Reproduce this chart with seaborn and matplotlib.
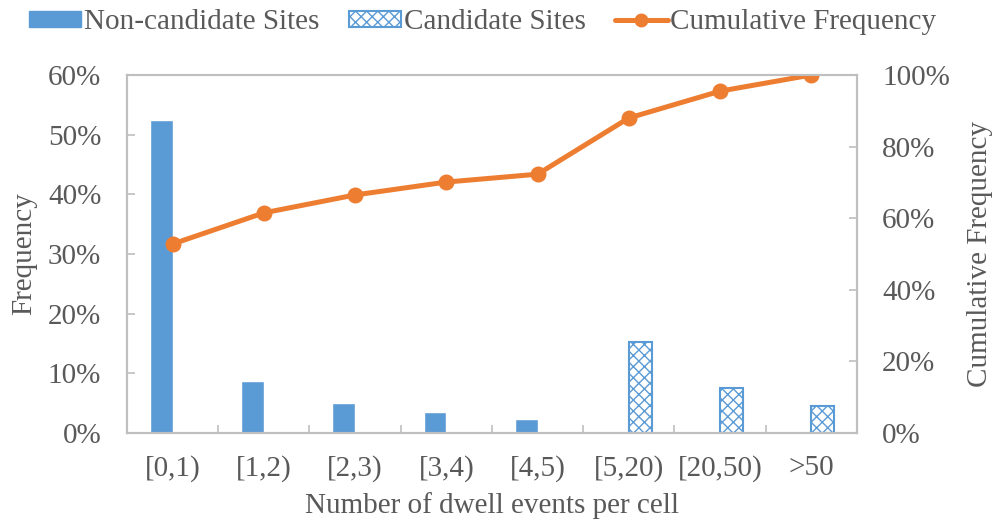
import numpy as np
import pandas as pd
import matplotlib.pyplot as plt
import seaborn as sns
from matplotlib.patches import Patch
from matplotlib.lines import Line2D
from matplotlib.ticker import PercentFormatter

# Данные
bins = ['[0,1)', '[1,2)', '[2,3)', '[3,4)', '[4,5)', '[5,20)', '[20,50)', '>50']
non_candidate = [52.5, 8.7, 5.0, 3.5, 2.3]
candidate = [15.2, 7.5, 4.5]
cumulative = [52.8, 61.5, 66.5, 70.1, 72.3, 88.0, 95.5, 100.0]

blue = '#5B9BD5'
orange = '#ED7D31'
grey = '#595959'
spine_grey = '#BFBFBF'
fs = 21

df = pd.DataFrame({
    'bin': bins,
    'freq': non_candidate + candidate,
    'site': ['Non-candidate Sites'] * len(non_candidate) + ['Candidate Sites'] * len(candidate),
})

sns.set_theme(style='white')
plt.rcParams['font.family'] = ['Liberation Serif', 'DejaVu Serif']
plt.rcParams['hatch.linewidth'] = 1.0
plt.rcParams['text.color'] = grey

fig = plt.figure(figsize=(9.95, 5.32), dpi=100)
ax = fig.add_axes([0.1276, 0.186, 0.7337, 0.673])

sns.barplot(data=df, x='bin', y='freq', hue='site', order=bins,
            hue_order=['Non-candidate Sites', 'Candidate Sites'], dodge=True,
            palette=[blue, blue], width=0.5, saturation=1, legend=False, ax=ax)

# штриховка для кандидатов
for p in ax.containers[1]:
    p.set_facecolor('white')
    p.set_edgecolor(blue)
    p.set_linewidth(1.5)
    p.set_hatch('xxx')

ax.set_xlim(-0.5, 7.5)
ax.set_ylim(0, 60)
ax.set_yticks(np.arange(0, 61, 10))
ax.yaxis.set_major_formatter(PercentFormatter(100, decimals=0))
ax.set_xticks(np.arange(len(bins)))
ax.set_xticklabels(bins)
ax.set_xticks(np.arange(-0.5, 8, 1), minor=True)
ax.tick_params(axis='x', which='major', length=0, pad=16, labelsize=fs, labelcolor=grey)
ax.tick_params(axis='x', which='minor', length=6, width=1.2, direction='in', color=spine_grey, bottom=True)
ax.tick_params(axis='y', length=6, width=1.2, direction='in', color=spine_grey, pad=18.5, labelsize=fs, labelcolor=grey, left=True)
ax.set_xlabel('Number of dwell events per cell', fontsize=fs, color=grey)
ax.set_ylabel('Frequency', fontsize=fs, color=grey)
ax.xaxis.set_label_coords(0.5, -0.165)
ax.yaxis.set_label_coords(-0.123, 0.5)

ax2 = ax.twinx()
sns.lineplot(x=np.arange(len(bins)), y=cumulative, color=orange, linewidth=3.6,
             marker='o', markersize=11.5, markeredgewidth=0, ax=ax2)
ax2.set_ylim(0, 100)
ax2.set_yticks(np.arange(0, 101, 20))
ax2.yaxis.set_major_formatter(PercentFormatter(100, decimals=0))
ax2.tick_params(axis='y', length=6, width=1.2, direction='in', color=spine_grey, pad=18, labelsize=fs, labelcolor=grey, right=True)
ax2.set_ylabel('Cumulative Frequency', fontsize=fs, color=grey)
ax2.yaxis.set_label_coords(1.151, 0.5)

for a in (ax, ax2):
    for s in a.spines.values():
        s.set_color(spine_grey)
        s.set_linewidth(1.5)

handles = [
    Patch(facecolor=blue, edgecolor=blue),
    Patch(facecolor='white', edgecolor=blue, hatch='xxx', linewidth=1.5),
    Line2D([0], [0], color=orange, linewidth=3.6, marker='o', markersize=9),
]
labels = ['Non-candidate Sites', 'Candidate Sites', 'Cumulative Frequency']
fig.legend(handles, labels, loc='center', bbox_to_anchor=(0.485, 0.958), ncol=3,
           frameon=False, fontsize=fs, handlelength=1.8, handleheight=0.5,
           handletextpad=0.1, columnspacing=1.0, borderpad=0, labelcolor=grey)

plt.savefig('out.png', dpi=100)
plt.close()
